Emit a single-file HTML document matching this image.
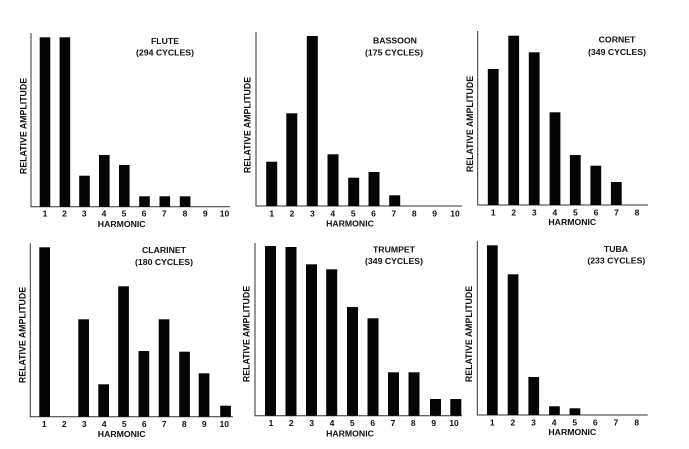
<!DOCTYPE html>
<html><head><meta charset="utf-8"><style>
html,body{margin:0;padding:0;background:#fff;}
svg{display:block;}
text{font-family:"Liberation Sans",Arial,sans-serif;font-weight:bold;fill:#111;}
.t{font-size:8.7px;text-anchor:middle;}
.k{font-size:8.5px;text-anchor:middle;}
.y{font-size:8.8px;text-anchor:middle;dominant-baseline:central;}
.ax{stroke:#333;stroke-width:1;fill:none;}
rect{fill:#050505;}
</style></head><body>
<svg width="689" height="449" viewBox="0 0 689 449" xmlns="http://www.w3.org/2000/svg">
<!-- FLUTE -->
<polyline class="ax" points="31,33 31,206.7 230,206.7"/>
<rect x="39.7" y="37.3" width="10.6" height="169.4"/>
<rect x="59.6" y="37.3" width="10.6" height="169.4"/>
<rect x="79.2" y="175.7" width="10.6" height="31"/>
<rect x="99" y="155" width="10.6" height="51.7"/>
<rect x="119" y="165" width="10.6" height="41.7"/>
<rect x="139.2" y="196.3" width="10.6" height="10.4"/>
<rect x="159.5" y="196.3" width="10.6" height="10.4"/>
<rect x="179.8" y="196.3" width="10.6" height="10.4"/>
<text class="t" x="165" y="44.2">FLUTE</text>
<text class="t" x="165" y="55.5">(294 CYCLES)</text>
<g class="k"><text class="k" x="45" y="216.5">1</text><text class="k" x="64.5" y="216.5">2</text><text class="k" x="84.3" y="216.5">3</text><text class="k" x="104" y="216.5">4</text><text class="k" x="124" y="216.5">5</text><text class="k" x="144" y="216.5">6</text><text class="k" x="164.3" y="216.5">7</text><text class="k" x="185" y="216.5">8</text><text class="k" x="205.3" y="216.5">9</text><text class="k" x="224.5" y="216.5">10</text></g>
<text class="t" x="121.7" y="227.2">HARMONIC</text>
<text class="y" transform="translate(23.3,126) rotate(-90)">RELATIVE AMPLITUDE</text>

<!-- BASSOON -->
<polyline class="ax" points="256,32 256,206 462,206"/>
<rect x="266.2" y="161.7" width="11" height="44.3"/>
<rect x="286.3" y="113.3" width="11" height="92.7"/>
<rect x="306.8" y="36" width="11" height="170"/>
<rect x="327.5" y="154.3" width="11" height="51.7"/>
<rect x="348.2" y="177.7" width="11" height="28.3"/>
<rect x="368.5" y="172" width="11" height="34"/>
<rect x="389.2" y="195.3" width="11" height="10.7"/>
<text class="t" x="395" y="43.5">BASSOON</text>
<text class="t" x="394" y="55.5">(175 CYCLES)</text>
<text class="k" x="271.7" y="216.3">1</text><text class="k" x="292" y="216.3">2</text><text class="k" x="312.4" y="216.3">3</text><text class="k" x="332.8" y="216.3">4</text><text class="k" x="353.2" y="216.3">5</text><text class="k" x="373.5" y="216.3">6</text><text class="k" x="393.9" y="216.3">7</text><text class="k" x="414.3" y="216.3">8</text><text class="k" x="434.6" y="216.3">9</text><text class="k" x="455" y="216.3">10</text>
<text class="t" x="350" y="226.6">HARMONIC</text>
<text class="y" transform="translate(247.7,125) rotate(-90)">RELATIVE AMPLITUDE</text>

<!-- CORNET -->
<polyline class="ax" points="477.7,31 477.7,205 648,205"/>
<rect x="487.8" y="69" width="10.8" height="136"/>
<rect x="508.3" y="35.7" width="10.8" height="169.3"/>
<rect x="528.8" y="52.3" width="10.8" height="152.7"/>
<rect x="549.6" y="112.3" width="10.8" height="92.7"/>
<rect x="569.9" y="155" width="10.8" height="50"/>
<rect x="590.4" y="165.7" width="10.8" height="39.3"/>
<rect x="610.9" y="182" width="10.8" height="23"/>
<text class="t" x="617" y="42.5">CORNET</text>
<text class="t" x="617" y="55.2">(349 CYCLES)</text>
<text class="k" x="493.2" y="215.5">1</text><text class="k" x="513.8" y="215.5">2</text><text class="k" x="534.3" y="215.5">3</text><text class="k" x="554.9" y="215.5">4</text><text class="k" x="575.4" y="215.5">5</text><text class="k" x="596" y="215.5">6</text><text class="k" x="616.5" y="215.5">7</text><text class="k" x="637" y="215.5">8</text>
<text class="t" x="572.3" y="225.2">HARMONIC</text>
<text class="y" transform="translate(470,124) rotate(-90)">RELATIVE AMPLITUDE</text>

<!-- CLARINET -->
<polyline class="ax" points="30.3,243.3 30.3,416.7 233,416.7"/>
<rect x="39.3" y="247.3" width="10.7" height="169.4"/>
<rect x="78.3" y="319.3" width="10.7" height="97.4"/>
<rect x="98.3" y="384.3" width="10.7" height="32.4"/>
<rect x="118.2" y="286.3" width="10.7" height="130.4"/>
<rect x="138.5" y="351" width="10.7" height="65.7"/>
<rect x="158.7" y="319.3" width="10.7" height="97.4"/>
<rect x="179.2" y="351.7" width="10.7" height="65"/>
<rect x="198.7" y="373.3" width="10.7" height="43.4"/>
<rect x="220.2" y="405.7" width="10.7" height="11"/>
<text class="t" x="164" y="253.2">CLARINET</text>
<text class="t" x="164" y="264.9">(180 CYCLES)</text>
<text class="k" x="44.3" y="427.2">1</text><text class="k" x="64.3" y="427.2">2</text><text class="k" x="84.3" y="427.2">3</text><text class="k" x="104.3" y="427.2">4</text><text class="k" x="124.3" y="427.2">5</text><text class="k" x="144.3" y="427.2">6</text><text class="k" x="164.3" y="427.2">7</text><text class="k" x="184.3" y="427.2">8</text><text class="k" x="204.3" y="427.2">9</text><text class="k" x="224.3" y="427.2">10</text>
<text class="t" x="121.7" y="437.2">HARMONIC</text>
<text class="y" transform="translate(22.7,335) rotate(-90)">RELATIVE AMPLITUDE</text>

<!-- TRUMPET -->
<polyline class="ax" points="255,243 255,415.7 462,415.7"/>
<rect x="265" y="246" width="11" height="169.7"/>
<rect x="285.5" y="247" width="11" height="168.7"/>
<rect x="306" y="264.3" width="11" height="151.4"/>
<rect x="326.2" y="269.3" width="11" height="146.4"/>
<rect x="347" y="307" width="11" height="108.7"/>
<rect x="367.5" y="318.3" width="11" height="97.4"/>
<rect x="388" y="372.3" width="11" height="43.4"/>
<rect x="408.5" y="372.3" width="11" height="43.4"/>
<rect x="430" y="399" width="11" height="16.7"/>
<rect x="450.3" y="399" width="11" height="16.7"/>
<text class="t" x="394" y="252.5">TRUMPET</text>
<text class="t" x="394" y="263.9">(349 CYCLES)</text>
<text class="k" x="271" y="425.9">1</text><text class="k" x="291.3" y="425.9">2</text><text class="k" x="311.7" y="425.9">3</text><text class="k" x="332" y="425.9">4</text><text class="k" x="352.3" y="425.9">5</text><text class="k" x="372.7" y="425.9">6</text><text class="k" x="393" y="425.9">7</text><text class="k" x="413.3" y="425.9">8</text><text class="k" x="433.7" y="425.9">9</text><text class="k" x="454" y="425.9">10</text>
<text class="t" x="350" y="436.5">HARMONIC</text>
<text class="y" transform="translate(246.7,334) rotate(-90)">RELATIVE AMPLITUDE</text>

<!-- TUBA -->
<polyline class="ax" points="477.3,241 477.3,415 647.7,415"/>
<rect x="487" y="245.3" width="10.7" height="169.7"/>
<rect x="507.7" y="274.3" width="10.7" height="140.7"/>
<rect x="528.4" y="377" width="10.7" height="38"/>
<rect x="549.1" y="406.3" width="10.7" height="8.7"/>
<rect x="569.6" y="408.3" width="10.7" height="6.7"/>
<text class="t" x="616" y="252.2">TUBA</text>
<text class="t" x="616.3" y="263.5">(233 CYCLES)</text>
<text class="k" x="492.3" y="425.5">1</text><text class="k" x="512.9" y="425.5">2</text><text class="k" x="533.5" y="425.5">3</text><text class="k" x="554.1" y="425.5">4</text><text class="k" x="574.7" y="425.5">5</text><text class="k" x="595.3" y="425.5">6</text><text class="k" x="615.9" y="425.5">7</text><text class="k" x="636.7" y="425.5">8</text>
<text class="t" x="572.3" y="434.9">HARMONIC</text>
<text class="y" transform="translate(469,334) rotate(-90)">RELATIVE AMPLITUDE</text>
</svg>
</body></html>
